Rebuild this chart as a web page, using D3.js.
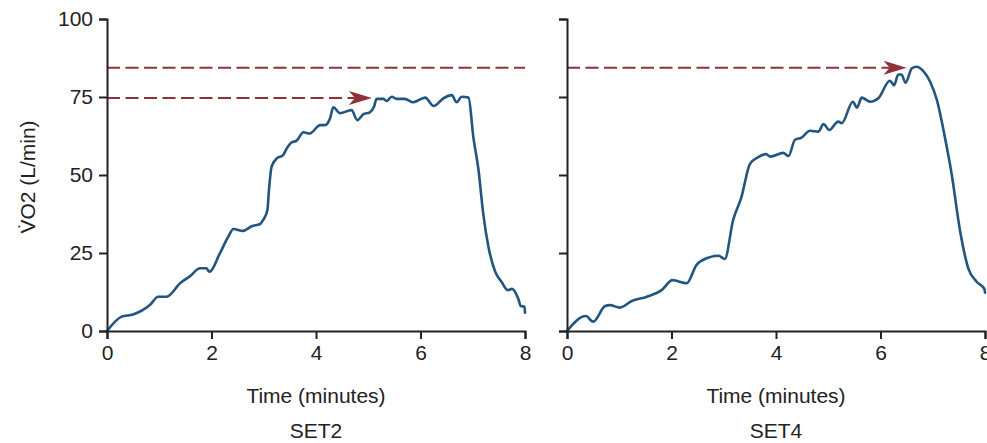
<!DOCTYPE html>
<html>
<head>
<meta charset="utf-8">
<script src="https://cdn.jsdelivr.net/npm/d3@7"></script>
<style>
  html, body { margin: 0; padding: 0; background: #fff; }
  svg text { font-family: "Liberation Sans", Arial, Helvetica, sans-serif; fill: #222; }
</style>
</head>
<body>
<svg id="chart" width="987" height="443"></svg>
<script>
// Oxygen uptake over time for two exercise sets
const set2Time = [0, 0.28, 0.5, 0.82, 0.98, 1.14, 1.4, 1.59, 1.78, 1.9, 1.96, 2.16, 2.32, 2.42, 2.6, 2.77, 2.93, 2.99, 3.07, 3.1, 3.15, 3.25, 3.37, 3.44, 3.53, 3.63, 3.76, 3.88, 4.08, 4.17, 4.27, 4.33, 4.46, 4.68, 4.79, 4.91, 5.03, 5.11, 5.16, 5.29, 5.35, 5.45, 5.54, 5.7, 5.86, 6.09, 6.25, 6.44, 6.6, 6.69, 6.79, 6.92, 7.01, 7.11, 7.2, 7.3, 7.43, 7.55, 7.67, 7.75, 7.87, 7.92, 7.99, 8.0];
const set2VO2 = [0, 4.6, 5.3, 8.3, 11, 11, 15.3, 17.6, 20.1, 20.1, 19, 24.9, 30.2, 32.7, 32.1, 33.6, 34.3, 35.6, 38.8, 45.2, 52.7, 55.3, 56.4, 58.5, 60.4, 61, 63.7, 63.3, 66, 66, 68.2, 71.7, 69.8, 70.8, 67.6, 69.5, 70.1, 71.9, 74.4, 74.4, 73.7, 75.1, 74.4, 74.4, 73.3, 74.8, 72.1, 74.6, 75.6, 73.3, 75.1, 74.8, 62.3, 51.6, 37.7, 27, 19, 15.8, 13.1, 13.5, 10.4, 8, 7.8, 5.9];

const set4Time = [0, 0.36, 0.5, 0.73, 0.82, 1.01, 1.24, 1.53, 1.81, 2.02, 2.29, 2.48, 2.67, 2.9, 3.02, 3.18, 3.34, 3.5, 3.66, 3.81, 3.89, 4.14, 4.24, 4.36, 4.49, 4.65, 4.81, 4.91, 5.02, 5.19, 5.26, 5.47, 5.55, 5.64, 5.8, 5.96, 6.18, 6.26, 6.34, 6.4, 6.48, 6.6, 6.69, 6.82, 6.95, 7.08, 7.23, 7.36, 7.52, 7.68, 7.84, 7.99, 8.0];
const set4VO2 = [0, 4.8, 3, 8, 8.3, 7.5, 9.6, 11, 13.1, 16.3, 15.3, 21.2, 23.3, 24.1, 23.1, 35.6, 43, 53.5, 55.7, 56.7, 55.9, 57.1, 56.1, 61.2, 62, 64.2, 63.9, 66.3, 64.4, 67.1, 66.6, 73.5, 71.6, 74.8, 73.5, 74.6, 80.2, 78.8, 82.2, 82.2, 79.6, 84.2, 84.7, 83.3, 79.9, 74, 62.3, 50.5, 32.4, 20.1, 15.8, 13.4, 12.3];

// Reference levels: peak of SET2 and peak of SET4
const set2Peak = 74.7;
const set4Peak = 84.4;
// Time at which each arrow reaches its curve
const set2ArrowTime = 5.07;
const set4ArrowTime = 6.5;

const xTicks = [0, 2, 4, 6, 8];
const yTicks = [0, 25, 50, 75, 100];
const panelTitles = ["SET2", "SET4"];
const xTitle = "Time (minutes)";
const yTitle = "V\u0307O2 (L/min)";

const lineColor = "#22557f";
const refColor = "#913039";
const axisColor = "#222";
const fontSize = 21;

const svg = d3.select("#chart");
const y = d3.scaleLinear().domain([0, 100]).range([331, 19]);

const panels = [
  { left: 107, time: set2Time, vo2: set2VO2, title: panelTitles[0], labels: true },
  { left: 567, time: set4Time, vo2: set4VO2, title: panelTitles[1], labels: false }
];

const panelWidth = 418;

// Arrowhead pointing right with its tip at (tx, ty)
function arrowPath(tx, ty) {
  return `M${tx},${ty} L${tx - 23},${ty - 7} L${tx - 17},${ty} L${tx - 23},${ty + 7} Z`;
}

panels.forEach((p, i) => {
  const x = d3.scaleLinear().domain([0, 8]).range([p.left, p.left + panelWidth]);
  const g = svg.append("g");

  // Reference dashed lines
  const dash = "13,5.5";
  if (i === 0) {
    // SET4 peak level drawn across the whole SET2 panel
    g.append("line")
      .attr("x1", x(0)).attr("x2", x(8))
      .attr("y1", y(set4Peak)).attr("y2", y(set4Peak))
      .attr("stroke", refColor).attr("stroke-width", 2)
      .attr("stroke-dasharray", dash);
    g.append("line")
      .attr("x1", x(0)).attr("x2", x(set2ArrowTime) - 17)
      .attr("y1", y(set2Peak)).attr("y2", y(set2Peak))
      .attr("stroke", refColor).attr("stroke-width", 2)
      .attr("stroke-dasharray", dash);
    g.append("path")
      .attr("d", arrowPath(x(set2ArrowTime), y(set2Peak)))
      .attr("fill", refColor);
  } else {
    g.append("line")
      .attr("x1", x(0)).attr("x2", x(set4ArrowTime) - 17)
      .attr("y1", y(set4Peak)).attr("y2", y(set4Peak))
      .attr("stroke", refColor).attr("stroke-width", 2)
      .attr("stroke-dasharray", dash);
    g.append("path")
      .attr("d", arrowPath(x(set4ArrowTime), y(set4Peak)))
      .attr("fill", refColor);
  }

  // Data curve
  const data = p.time.map((t, k) => [t, p.vo2[k]]);
  const line = d3.line()
    .x(d => x(d[0]))
    .y(d => y(d[1]))
    .curve(d3.curveMonotoneX);
  g.append("path")
    .datum(data)
    .attr("d", line)
    .attr("fill", "none")
    .attr("stroke", lineColor)
    .attr("stroke-width", 2.6)
    .attr("stroke-linejoin", "round")
    .attr("stroke-linecap", "round");

  // Axes
  const xAxis = d3.axisBottom(x).tickValues(xTicks).tickSize(8).tickSizeOuter(8).tickPadding(6);
  const gx = g.append("g").attr("transform", `translate(0,${y(0)})`).call(xAxis);
  const yAxis = d3.axisLeft(y).tickValues(yTicks).tickSize(8).tickSizeOuter(8).tickPadding(6);
  if (!p.labels) yAxis.tickFormat("");
  const gy = g.append("g").attr("transform", `translate(${x(0)},0)`).call(yAxis);

  [gx, gy].forEach(a => {
    a.select(".domain").attr("stroke", axisColor).attr("stroke-width", 2);
    a.selectAll(".tick line").attr("stroke", axisColor).attr("stroke-width", 2);
    a.selectAll(".tick text").attr("font-size", fontSize).attr("fill", "#222")
      .style("font-family", "'Liberation Sans', Arial, sans-serif");
  });
  gx.selectAll(".tick text").attr("dy", "0.72em");

  // Axis title and panel title
  g.append("text")
    .attr("x", x(4)).attr("y", 403)
    .attr("text-anchor", "middle")
    .attr("font-size", fontSize)
    .text(xTitle);
  g.append("text")
    .attr("x", x(4)).attr("y", 438)
    .attr("text-anchor", "middle")
    .attr("font-size", fontSize)
    .text(p.title);
});

// Y axis title
svg.append("text")
  .attr("transform", "translate(35,177) rotate(-90)")
  .attr("text-anchor", "middle")
  .attr("font-size", fontSize)
  .text(yTitle);
</script>
</body>
</html>
